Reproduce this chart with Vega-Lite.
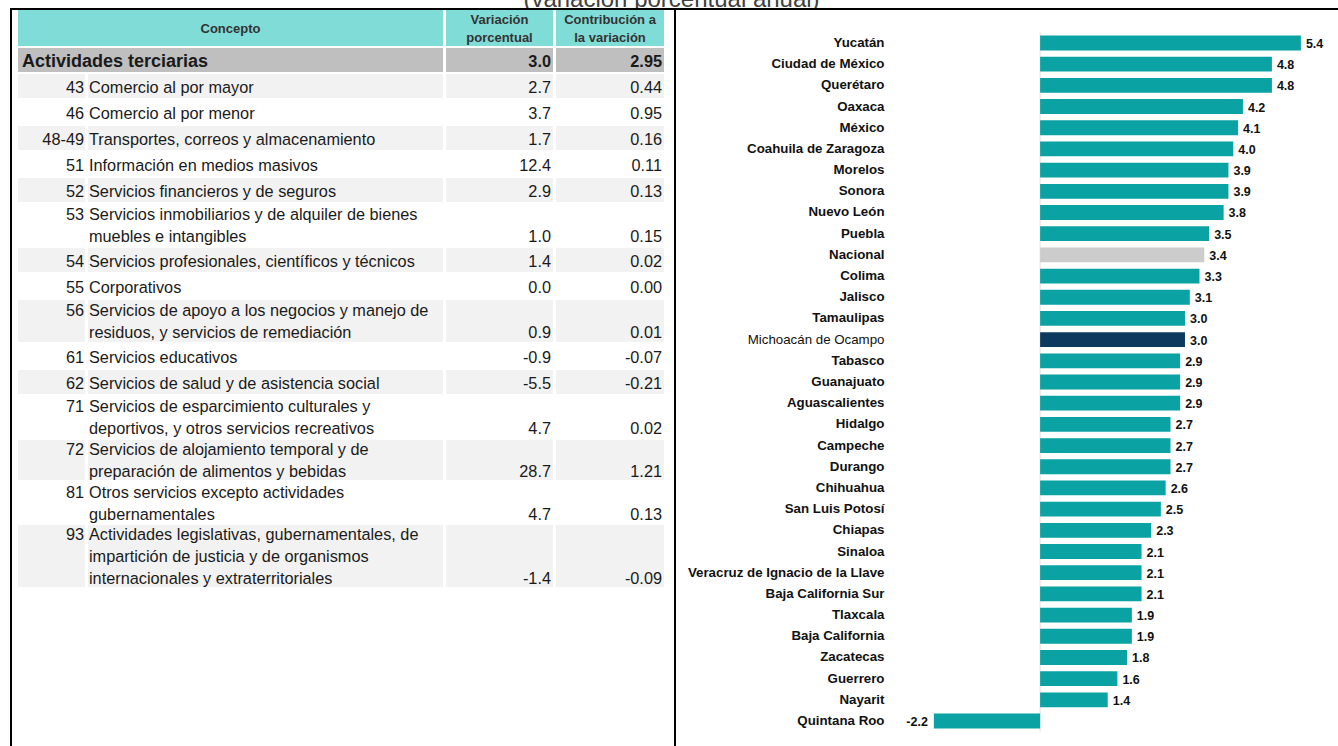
{
  "$schema": "https://vega.github.io/schema/vega-lite/v6.json",
  "padding": {"left": 10, "top": 0, "right": 0, "bottom": 0},
  "background": "white",
  "spacing": 0,
  "config": {
    "view": {"stroke": null},
    "font": "Liberation Sans",
    "locale": {"number": {"decimal": ".", "thousands": ",", "grouping": [3], "currency": ["$", ""], "minus": "-"}},
    "text": {"font": "Liberation Sans", "fontSize": 16.3, "color": "#1a1a1a", "baseline": "middle", "lineHeight": 22, "dy": 2}
  },
  "datasets": {
    "titulo": [{"texto": "(variación porcentual anual)"}],
    "encabezado": [
      {"columna": "concepto", "texto": ["Concepto"]},
      {"columna": "variacion", "texto": ["Variación", "porcentual"]},
      {"columna": "contribucion", "texto": ["Contribución a", "la variación"]}
    ],
    "total": [{"concepto": "Actividades terciarias", "var": 3.0, "contrib": 2.95}],
    "cuerpo": [
      {"fila": 1, "clave": "43", "concepto": ["Comercio al por mayor"], "var": 2.7, "contrib": 0.44},
      {"fila": 2, "clave": "46", "concepto": ["Comercio al por menor"], "var": 3.7, "contrib": 0.95},
      {"fila": 3, "clave": "48-49", "concepto": ["Transportes, correos y almacenamiento"], "var": 1.7, "contrib": 0.16},
      {"fila": 4, "clave": "51", "concepto": ["Información en medios masivos"], "var": 12.4, "contrib": 0.11},
      {"fila": 5, "clave": "52", "concepto": ["Servicios financieros y de seguros"], "var": 2.9, "contrib": 0.13},
      {"fila": 6, "clave": "53", "concepto": ["Servicios inmobiliarios y de alquiler de bienes", "muebles e intangibles"], "var": 1.0, "contrib": 0.15},
      {"fila": 7, "clave": "54", "concepto": ["Servicios profesionales, científicos y técnicos"], "var": 1.4, "contrib": 0.02},
      {"fila": 8, "clave": "55", "concepto": ["Corporativos"], "var": 0.0, "contrib": 0.0},
      {"fila": 9, "clave": "56", "concepto": ["Servicios de apoyo a los negocios y manejo de", "residuos, y servicios de remediación"], "var": 0.9, "contrib": 0.01},
      {"fila": 10, "clave": "61", "concepto": ["Servicios educativos"], "var": -0.9, "contrib": -0.07},
      {"fila": 11, "clave": "62", "concepto": ["Servicios de salud y de asistencia social"], "var": -5.5, "contrib": -0.21},
      {"fila": 12, "clave": "71", "concepto": ["Servicios de esparcimiento culturales y", "deportivos, y otros servicios recreativos"], "var": 4.7, "contrib": 0.02},
      {"fila": 13, "clave": "72", "concepto": ["Servicios de alojamiento temporal y de", "preparación de alimentos y bebidas"], "var": 28.7, "contrib": 1.21},
      {"fila": 14, "clave": "81", "concepto": ["Otros servicios excepto actividades", "gubernamentales"], "var": 4.7, "contrib": 0.13},
      {"fila": 15, "clave": "93", "concepto": ["Actividades legislativas, gubernamentales, de", "impartición de justicia y de organismos", "internacionales y extraterritoriales"], "var": -1.4, "contrib": -0.09}
    ],
    "estados": [
      {"estado": "Yucatán", "valor": 5.4},
      {"estado": "Ciudad de México", "valor": 4.8},
      {"estado": "Querétaro", "valor": 4.8},
      {"estado": "Oaxaca", "valor": 4.2},
      {"estado": "México", "valor": 4.1},
      {"estado": "Coahuila de Zaragoza", "valor": 4.0},
      {"estado": "Morelos", "valor": 3.9},
      {"estado": "Sonora", "valor": 3.9},
      {"estado": "Nuevo León", "valor": 3.8},
      {"estado": "Puebla", "valor": 3.5},
      {"estado": "Nacional", "valor": 3.4},
      {"estado": "Colima", "valor": 3.3},
      {"estado": "Jalisco", "valor": 3.1},
      {"estado": "Tamaulipas", "valor": 3.0},
      {"estado": "Michoacán de Ocampo", "valor": 3.0},
      {"estado": "Tabasco", "valor": 2.9},
      {"estado": "Guanajuato", "valor": 2.9},
      {"estado": "Aguascalientes", "valor": 2.9},
      {"estado": "Hidalgo", "valor": 2.7},
      {"estado": "Campeche", "valor": 2.7},
      {"estado": "Durango", "valor": 2.7},
      {"estado": "Chihuahua", "valor": 2.6},
      {"estado": "San Luis Potosí", "valor": 2.5},
      {"estado": "Chiapas", "valor": 2.3},
      {"estado": "Sinaloa", "valor": 2.1},
      {"estado": "Veracruz de Ignacio de la Llave", "valor": 2.1},
      {"estado": "Baja California Sur", "valor": 2.1},
      {"estado": "Tlaxcala", "valor": 1.9},
      {"estado": "Baja California", "valor": 1.9},
      {"estado": "Zacatecas", "valor": 1.8},
      {"estado": "Guerrero", "valor": 1.6},
      {"estado": "Nayarit", "valor": 1.4},
      {"estado": "Quintana Roo", "valor": -2.2}
    ]
  },
  "vconcat": [
    {
      "data": {"name": "titulo"},
      "width": 1323, "height": 8,
      "mark": {"type": "text", "clip": true, "fontSize": 24, "baseline": "alphabetic", "dy": 3, "color": "#404040"},
      "encoding": {"text": {"field": "texto"}}
    },
    {"data": {"values": []}, "width": 1330, "height": 2, "view": {"fill": "#000000"}, "mark": "rule", "encoding": {}},
    {
      "spacing": 10,
      "hconcat": [
        {
          "spacing": 6,
          "hconcat": [
            {"data": {"values": []}, "width": 2, "height": 740, "view": {"fill": "#000000"}, "mark": "rule", "encoding": {}},
            {
              "spacing": 2,
              "vconcat": [
                {"spacing": 3, "hconcat": [
                  {"data": {"name": "encabezado"}, "transform": [{"filter": "datum.columna === 'concepto'"}], "width": 425, "height": 36, "view": {"fill": "#80dcd6"}, "mark": {"type": "text", "fontSize": 13, "fontWeight": "bold", "color": "#333333", "lineHeight": 18, "dy": 1}, "encoding": {"text": {"field": "texto"}}},
                  {"data": {"name": "encabezado"}, "transform": [{"filter": "datum.columna === 'variacion'"}], "width": 107, "height": 36, "view": {"fill": "#80dcd6"}, "mark": {"type": "text", "fontSize": 13, "fontWeight": "bold", "color": "#333333", "lineHeight": 18, "dy": -8}, "encoding": {"text": {"field": "texto"}}},
                  {"data": {"name": "encabezado"}, "transform": [{"filter": "datum.columna === 'contribucion'"}], "width": 108, "height": 36, "view": {"fill": "#80dcd6"}, "mark": {"type": "text", "fontSize": 13, "fontWeight": "bold", "color": "#333333", "lineHeight": 18, "dy": -8}, "encoding": {"text": {"field": "texto"}}}
                ]},
                {"spacing": 3, "hconcat": [
                  {"data": {"name": "total"}, "width": 425, "height": 24, "view": {"fill": "#bfbfbf"}, "mark": {"type": "text", "fontSize": 18, "fontWeight": "bold", "align": "left", "dx": 4}, "encoding": {"x": {"datum": 0, "type": "quantitative", "scale": {"domain": [0, 1]}, "axis": null}, "text": {"field": "concepto"}}},
                  {"data": {"name": "total"}, "width": 107, "height": 24, "view": {"fill": "#bfbfbf"}, "mark": {"type": "text", "fontWeight": "bold", "align": "right", "dx": -2}, "encoding": {"x": {"datum": 1, "type": "quantitative", "scale": {"domain": [0, 1]}, "axis": null}, "text": {"field": "var", "format": ".1f"}}},
                  {"data": {"name": "total"}, "width": 108, "height": 24, "view": {"fill": "#bfbfbf"}, "mark": {"type": "text", "fontWeight": "bold", "align": "right", "dx": -2}, "encoding": {"x": {"datum": 1, "type": "quantitative", "scale": {"domain": [0, 1]}, "axis": null}, "text": {"field": "contrib", "format": ".2f"}}}
                ]},
                {"spacing": 3, "hconcat": [
                  {"data": {"name": "cuerpo"}, "transform": [{"filter": "datum.fila === 1"}], "width": 67, "height": 24, "view": {"fill": "#f2f2f2"}, "mark": {"type": "text", "align": "right", "dx": -1}, "encoding": {"x": {"datum": 1, "type": "quantitative", "scale": {"domain": [0, 1]}, "axis": null}, "text": {"field": "clave"}}},
                  {"data": {"name": "cuerpo"}, "transform": [{"filter": "datum.fila === 1"}], "width": 355, "height": 24, "view": {"fill": "#f2f2f2"}, "mark": {"type": "text", "align": "left", "dx": 1}, "encoding": {"x": {"datum": 0, "type": "quantitative", "scale": {"domain": [0, 1]}, "axis": null}, "text": {"field": "concepto"}}},
                  {"data": {"name": "cuerpo"}, "transform": [{"filter": "datum.fila === 1"}], "width": 107, "height": 24, "view": {"fill": "#f2f2f2"}, "mark": {"type": "text", "align": "right", "dx": -2}, "encoding": {"x": {"datum": 1, "type": "quantitative", "scale": {"domain": [0, 1]}, "axis": null}, "text": {"field": "var", "format": ".1f"}}},
                  {"data": {"name": "cuerpo"}, "transform": [{"filter": "datum.fila === 1"}], "width": 108, "height": 24, "view": {"fill": "#f2f2f2"}, "mark": {"type": "text", "align": "right", "dx": -2}, "encoding": {"x": {"datum": 1, "type": "quantitative", "scale": {"domain": [0, 1]}, "axis": null}, "text": {"field": "contrib", "format": ".2f"}}}
                ]},
                {"spacing": 3, "hconcat": [
                  {"data": {"name": "cuerpo"}, "transform": [{"filter": "datum.fila === 2"}], "width": 67, "height": 24, "view": {"fill": "#ffffff"}, "mark": {"type": "text", "align": "right", "dx": -1}, "encoding": {"x": {"datum": 1, "type": "quantitative", "scale": {"domain": [0, 1]}, "axis": null}, "text": {"field": "clave"}}},
                  {"data": {"name": "cuerpo"}, "transform": [{"filter": "datum.fila === 2"}], "width": 355, "height": 24, "view": {"fill": "#ffffff"}, "mark": {"type": "text", "align": "left", "dx": 1}, "encoding": {"x": {"datum": 0, "type": "quantitative", "scale": {"domain": [0, 1]}, "axis": null}, "text": {"field": "concepto"}}},
                  {"data": {"name": "cuerpo"}, "transform": [{"filter": "datum.fila === 2"}], "width": 107, "height": 24, "view": {"fill": "#ffffff"}, "mark": {"type": "text", "align": "right", "dx": -2}, "encoding": {"x": {"datum": 1, "type": "quantitative", "scale": {"domain": [0, 1]}, "axis": null}, "text": {"field": "var", "format": ".1f"}}},
                  {"data": {"name": "cuerpo"}, "transform": [{"filter": "datum.fila === 2"}], "width": 108, "height": 24, "view": {"fill": "#ffffff"}, "mark": {"type": "text", "align": "right", "dx": -2}, "encoding": {"x": {"datum": 1, "type": "quantitative", "scale": {"domain": [0, 1]}, "axis": null}, "text": {"field": "contrib", "format": ".2f"}}}
                ]},
                {"spacing": 3, "hconcat": [
                  {"data": {"name": "cuerpo"}, "transform": [{"filter": "datum.fila === 3"}], "width": 67, "height": 24, "view": {"fill": "#f2f2f2"}, "mark": {"type": "text", "align": "right", "dx": -1}, "encoding": {"x": {"datum": 1, "type": "quantitative", "scale": {"domain": [0, 1]}, "axis": null}, "text": {"field": "clave"}}},
                  {"data": {"name": "cuerpo"}, "transform": [{"filter": "datum.fila === 3"}], "width": 355, "height": 24, "view": {"fill": "#f2f2f2"}, "mark": {"type": "text", "align": "left", "dx": 1}, "encoding": {"x": {"datum": 0, "type": "quantitative", "scale": {"domain": [0, 1]}, "axis": null}, "text": {"field": "concepto"}}},
                  {"data": {"name": "cuerpo"}, "transform": [{"filter": "datum.fila === 3"}], "width": 107, "height": 24, "view": {"fill": "#f2f2f2"}, "mark": {"type": "text", "align": "right", "dx": -2}, "encoding": {"x": {"datum": 1, "type": "quantitative", "scale": {"domain": [0, 1]}, "axis": null}, "text": {"field": "var", "format": ".1f"}}},
                  {"data": {"name": "cuerpo"}, "transform": [{"filter": "datum.fila === 3"}], "width": 108, "height": 24, "view": {"fill": "#f2f2f2"}, "mark": {"type": "text", "align": "right", "dx": -2}, "encoding": {"x": {"datum": 1, "type": "quantitative", "scale": {"domain": [0, 1]}, "axis": null}, "text": {"field": "contrib", "format": ".2f"}}}
                ]},
                {"spacing": 3, "hconcat": [
                  {"data": {"name": "cuerpo"}, "transform": [{"filter": "datum.fila === 4"}], "width": 67, "height": 24, "view": {"fill": "#ffffff"}, "mark": {"type": "text", "align": "right", "dx": -1}, "encoding": {"x": {"datum": 1, "type": "quantitative", "scale": {"domain": [0, 1]}, "axis": null}, "text": {"field": "clave"}}},
                  {"data": {"name": "cuerpo"}, "transform": [{"filter": "datum.fila === 4"}], "width": 355, "height": 24, "view": {"fill": "#ffffff"}, "mark": {"type": "text", "align": "left", "dx": 1}, "encoding": {"x": {"datum": 0, "type": "quantitative", "scale": {"domain": [0, 1]}, "axis": null}, "text": {"field": "concepto"}}},
                  {"data": {"name": "cuerpo"}, "transform": [{"filter": "datum.fila === 4"}], "width": 107, "height": 24, "view": {"fill": "#ffffff"}, "mark": {"type": "text", "align": "right", "dx": -2}, "encoding": {"x": {"datum": 1, "type": "quantitative", "scale": {"domain": [0, 1]}, "axis": null}, "text": {"field": "var", "format": ".1f"}}},
                  {"data": {"name": "cuerpo"}, "transform": [{"filter": "datum.fila === 4"}], "width": 108, "height": 24, "view": {"fill": "#ffffff"}, "mark": {"type": "text", "align": "right", "dx": -2}, "encoding": {"x": {"datum": 1, "type": "quantitative", "scale": {"domain": [0, 1]}, "axis": null}, "text": {"field": "contrib", "format": ".2f"}}}
                ]},
                {"spacing": 3, "hconcat": [
                  {"data": {"name": "cuerpo"}, "transform": [{"filter": "datum.fila === 5"}], "width": 67, "height": 24, "view": {"fill": "#f2f2f2"}, "mark": {"type": "text", "align": "right", "dx": -1}, "encoding": {"x": {"datum": 1, "type": "quantitative", "scale": {"domain": [0, 1]}, "axis": null}, "text": {"field": "clave"}}},
                  {"data": {"name": "cuerpo"}, "transform": [{"filter": "datum.fila === 5"}], "width": 355, "height": 24, "view": {"fill": "#f2f2f2"}, "mark": {"type": "text", "align": "left", "dx": 1}, "encoding": {"x": {"datum": 0, "type": "quantitative", "scale": {"domain": [0, 1]}, "axis": null}, "text": {"field": "concepto"}}},
                  {"data": {"name": "cuerpo"}, "transform": [{"filter": "datum.fila === 5"}], "width": 107, "height": 24, "view": {"fill": "#f2f2f2"}, "mark": {"type": "text", "align": "right", "dx": -2}, "encoding": {"x": {"datum": 1, "type": "quantitative", "scale": {"domain": [0, 1]}, "axis": null}, "text": {"field": "var", "format": ".1f"}}},
                  {"data": {"name": "cuerpo"}, "transform": [{"filter": "datum.fila === 5"}], "width": 108, "height": 24, "view": {"fill": "#f2f2f2"}, "mark": {"type": "text", "align": "right", "dx": -2}, "encoding": {"x": {"datum": 1, "type": "quantitative", "scale": {"domain": [0, 1]}, "axis": null}, "text": {"field": "contrib", "format": ".2f"}}}
                ]},
                {"spacing": 3, "hconcat": [
                  {"data": {"name": "cuerpo"}, "transform": [{"filter": "datum.fila === 6"}], "width": 67, "height": 42, "view": {"fill": "#ffffff"}, "mark": {"type": "text", "align": "right", "dx": -1, "dy": -10}, "encoding": {"x": {"datum": 1, "type": "quantitative", "scale": {"domain": [0, 1]}, "axis": null}, "text": {"field": "clave"}}},
                  {"data": {"name": "cuerpo"}, "transform": [{"filter": "datum.fila === 6"}], "width": 355, "height": 42, "view": {"fill": "#ffffff"}, "mark": {"type": "text", "align": "left", "dx": 1, "dy": -10}, "encoding": {"x": {"datum": 0, "type": "quantitative", "scale": {"domain": [0, 1]}, "axis": null}, "text": {"field": "concepto"}}},
                  {"data": {"name": "cuerpo"}, "transform": [{"filter": "datum.fila === 6"}], "width": 107, "height": 42, "view": {"fill": "#ffffff"}, "mark": {"type": "text", "align": "right", "dx": -2, "dy": 12}, "encoding": {"x": {"datum": 1, "type": "quantitative", "scale": {"domain": [0, 1]}, "axis": null}, "text": {"field": "var", "format": ".1f"}}},
                  {"data": {"name": "cuerpo"}, "transform": [{"filter": "datum.fila === 6"}], "width": 108, "height": 42, "view": {"fill": "#ffffff"}, "mark": {"type": "text", "align": "right", "dx": -2, "dy": 12}, "encoding": {"x": {"datum": 1, "type": "quantitative", "scale": {"domain": [0, 1]}, "axis": null}, "text": {"field": "contrib", "format": ".2f"}}}
                ]},
                {"spacing": 3, "hconcat": [
                  {"data": {"name": "cuerpo"}, "transform": [{"filter": "datum.fila === 7"}], "width": 67, "height": 24, "view": {"fill": "#f2f2f2"}, "mark": {"type": "text", "align": "right", "dx": -1}, "encoding": {"x": {"datum": 1, "type": "quantitative", "scale": {"domain": [0, 1]}, "axis": null}, "text": {"field": "clave"}}},
                  {"data": {"name": "cuerpo"}, "transform": [{"filter": "datum.fila === 7"}], "width": 355, "height": 24, "view": {"fill": "#f2f2f2"}, "mark": {"type": "text", "align": "left", "dx": 1}, "encoding": {"x": {"datum": 0, "type": "quantitative", "scale": {"domain": [0, 1]}, "axis": null}, "text": {"field": "concepto"}}},
                  {"data": {"name": "cuerpo"}, "transform": [{"filter": "datum.fila === 7"}], "width": 107, "height": 24, "view": {"fill": "#f2f2f2"}, "mark": {"type": "text", "align": "right", "dx": -2}, "encoding": {"x": {"datum": 1, "type": "quantitative", "scale": {"domain": [0, 1]}, "axis": null}, "text": {"field": "var", "format": ".1f"}}},
                  {"data": {"name": "cuerpo"}, "transform": [{"filter": "datum.fila === 7"}], "width": 108, "height": 24, "view": {"fill": "#f2f2f2"}, "mark": {"type": "text", "align": "right", "dx": -2}, "encoding": {"x": {"datum": 1, "type": "quantitative", "scale": {"domain": [0, 1]}, "axis": null}, "text": {"field": "contrib", "format": ".2f"}}}
                ]},
                {"spacing": 3, "hconcat": [
                  {"data": {"name": "cuerpo"}, "transform": [{"filter": "datum.fila === 8"}], "width": 67, "height": 24, "view": {"fill": "#ffffff"}, "mark": {"type": "text", "align": "right", "dx": -1}, "encoding": {"x": {"datum": 1, "type": "quantitative", "scale": {"domain": [0, 1]}, "axis": null}, "text": {"field": "clave"}}},
                  {"data": {"name": "cuerpo"}, "transform": [{"filter": "datum.fila === 8"}], "width": 355, "height": 24, "view": {"fill": "#ffffff"}, "mark": {"type": "text", "align": "left", "dx": 1}, "encoding": {"x": {"datum": 0, "type": "quantitative", "scale": {"domain": [0, 1]}, "axis": null}, "text": {"field": "concepto"}}},
                  {"data": {"name": "cuerpo"}, "transform": [{"filter": "datum.fila === 8"}], "width": 107, "height": 24, "view": {"fill": "#ffffff"}, "mark": {"type": "text", "align": "right", "dx": -2}, "encoding": {"x": {"datum": 1, "type": "quantitative", "scale": {"domain": [0, 1]}, "axis": null}, "text": {"field": "var", "format": ".1f"}}},
                  {"data": {"name": "cuerpo"}, "transform": [{"filter": "datum.fila === 8"}], "width": 108, "height": 24, "view": {"fill": "#ffffff"}, "mark": {"type": "text", "align": "right", "dx": -2}, "encoding": {"x": {"datum": 1, "type": "quantitative", "scale": {"domain": [0, 1]}, "axis": null}, "text": {"field": "contrib", "format": ".2f"}}}
                ]},
                {"spacing": 3, "hconcat": [
                  {"data": {"name": "cuerpo"}, "transform": [{"filter": "datum.fila === 9"}], "width": 67, "height": 42, "view": {"fill": "#f2f2f2"}, "mark": {"type": "text", "align": "right", "dx": -1, "dy": -10}, "encoding": {"x": {"datum": 1, "type": "quantitative", "scale": {"domain": [0, 1]}, "axis": null}, "text": {"field": "clave"}}},
                  {"data": {"name": "cuerpo"}, "transform": [{"filter": "datum.fila === 9"}], "width": 355, "height": 42, "view": {"fill": "#f2f2f2"}, "mark": {"type": "text", "align": "left", "dx": 1, "dy": -10}, "encoding": {"x": {"datum": 0, "type": "quantitative", "scale": {"domain": [0, 1]}, "axis": null}, "text": {"field": "concepto"}}},
                  {"data": {"name": "cuerpo"}, "transform": [{"filter": "datum.fila === 9"}], "width": 107, "height": 42, "view": {"fill": "#f2f2f2"}, "mark": {"type": "text", "align": "right", "dx": -2, "dy": 12}, "encoding": {"x": {"datum": 1, "type": "quantitative", "scale": {"domain": [0, 1]}, "axis": null}, "text": {"field": "var", "format": ".1f"}}},
                  {"data": {"name": "cuerpo"}, "transform": [{"filter": "datum.fila === 9"}], "width": 108, "height": 42, "view": {"fill": "#f2f2f2"}, "mark": {"type": "text", "align": "right", "dx": -2, "dy": 12}, "encoding": {"x": {"datum": 1, "type": "quantitative", "scale": {"domain": [0, 1]}, "axis": null}, "text": {"field": "contrib", "format": ".2f"}}}
                ]},
                {"spacing": 3, "hconcat": [
                  {"data": {"name": "cuerpo"}, "transform": [{"filter": "datum.fila === 10"}], "width": 67, "height": 24, "view": {"fill": "#ffffff"}, "mark": {"type": "text", "align": "right", "dx": -1}, "encoding": {"x": {"datum": 1, "type": "quantitative", "scale": {"domain": [0, 1]}, "axis": null}, "text": {"field": "clave"}}},
                  {"data": {"name": "cuerpo"}, "transform": [{"filter": "datum.fila === 10"}], "width": 355, "height": 24, "view": {"fill": "#ffffff"}, "mark": {"type": "text", "align": "left", "dx": 1}, "encoding": {"x": {"datum": 0, "type": "quantitative", "scale": {"domain": [0, 1]}, "axis": null}, "text": {"field": "concepto"}}},
                  {"data": {"name": "cuerpo"}, "transform": [{"filter": "datum.fila === 10"}], "width": 107, "height": 24, "view": {"fill": "#ffffff"}, "mark": {"type": "text", "align": "right", "dx": -2}, "encoding": {"x": {"datum": 1, "type": "quantitative", "scale": {"domain": [0, 1]}, "axis": null}, "text": {"field": "var", "format": ".1f"}}},
                  {"data": {"name": "cuerpo"}, "transform": [{"filter": "datum.fila === 10"}], "width": 108, "height": 24, "view": {"fill": "#ffffff"}, "mark": {"type": "text", "align": "right", "dx": -2}, "encoding": {"x": {"datum": 1, "type": "quantitative", "scale": {"domain": [0, 1]}, "axis": null}, "text": {"field": "contrib", "format": ".2f"}}}
                ]},
                {"spacing": 3, "hconcat": [
                  {"data": {"name": "cuerpo"}, "transform": [{"filter": "datum.fila === 11"}], "width": 67, "height": 24, "view": {"fill": "#f2f2f2"}, "mark": {"type": "text", "align": "right", "dx": -1}, "encoding": {"x": {"datum": 1, "type": "quantitative", "scale": {"domain": [0, 1]}, "axis": null}, "text": {"field": "clave"}}},
                  {"data": {"name": "cuerpo"}, "transform": [{"filter": "datum.fila === 11"}], "width": 355, "height": 24, "view": {"fill": "#f2f2f2"}, "mark": {"type": "text", "align": "left", "dx": 1}, "encoding": {"x": {"datum": 0, "type": "quantitative", "scale": {"domain": [0, 1]}, "axis": null}, "text": {"field": "concepto"}}},
                  {"data": {"name": "cuerpo"}, "transform": [{"filter": "datum.fila === 11"}], "width": 107, "height": 24, "view": {"fill": "#f2f2f2"}, "mark": {"type": "text", "align": "right", "dx": -2}, "encoding": {"x": {"datum": 1, "type": "quantitative", "scale": {"domain": [0, 1]}, "axis": null}, "text": {"field": "var", "format": ".1f"}}},
                  {"data": {"name": "cuerpo"}, "transform": [{"filter": "datum.fila === 11"}], "width": 108, "height": 24, "view": {"fill": "#f2f2f2"}, "mark": {"type": "text", "align": "right", "dx": -2}, "encoding": {"x": {"datum": 1, "type": "quantitative", "scale": {"domain": [0, 1]}, "axis": null}, "text": {"field": "contrib", "format": ".2f"}}}
                ]},
                {"spacing": 3, "hconcat": [
                  {"data": {"name": "cuerpo"}, "transform": [{"filter": "datum.fila === 12"}], "width": 67, "height": 42, "view": {"fill": "#ffffff"}, "mark": {"type": "text", "align": "right", "dx": -1, "dy": -10}, "encoding": {"x": {"datum": 1, "type": "quantitative", "scale": {"domain": [0, 1]}, "axis": null}, "text": {"field": "clave"}}},
                  {"data": {"name": "cuerpo"}, "transform": [{"filter": "datum.fila === 12"}], "width": 355, "height": 42, "view": {"fill": "#ffffff"}, "mark": {"type": "text", "align": "left", "dx": 1, "dy": -10}, "encoding": {"x": {"datum": 0, "type": "quantitative", "scale": {"domain": [0, 1]}, "axis": null}, "text": {"field": "concepto"}}},
                  {"data": {"name": "cuerpo"}, "transform": [{"filter": "datum.fila === 12"}], "width": 107, "height": 42, "view": {"fill": "#ffffff"}, "mark": {"type": "text", "align": "right", "dx": -2, "dy": 12}, "encoding": {"x": {"datum": 1, "type": "quantitative", "scale": {"domain": [0, 1]}, "axis": null}, "text": {"field": "var", "format": ".1f"}}},
                  {"data": {"name": "cuerpo"}, "transform": [{"filter": "datum.fila === 12"}], "width": 108, "height": 42, "view": {"fill": "#ffffff"}, "mark": {"type": "text", "align": "right", "dx": -2, "dy": 12}, "encoding": {"x": {"datum": 1, "type": "quantitative", "scale": {"domain": [0, 1]}, "axis": null}, "text": {"field": "contrib", "format": ".2f"}}}
                ]},
                {"spacing": 3, "hconcat": [
                  {"data": {"name": "cuerpo"}, "transform": [{"filter": "datum.fila === 13"}], "width": 67, "height": 40, "view": {"fill": "#f2f2f2"}, "mark": {"type": "text", "align": "right", "dx": -1, "dy": -10.5}, "encoding": {"x": {"datum": 1, "type": "quantitative", "scale": {"domain": [0, 1]}, "axis": null}, "text": {"field": "clave"}}},
                  {"data": {"name": "cuerpo"}, "transform": [{"filter": "datum.fila === 13"}], "width": 355, "height": 40, "view": {"fill": "#f2f2f2"}, "mark": {"type": "text", "align": "left", "dx": 1, "dy": -10.5}, "encoding": {"x": {"datum": 0, "type": "quantitative", "scale": {"domain": [0, 1]}, "axis": null}, "text": {"field": "concepto"}}},
                  {"data": {"name": "cuerpo"}, "transform": [{"filter": "datum.fila === 13"}], "width": 107, "height": 40, "view": {"fill": "#f2f2f2"}, "mark": {"type": "text", "align": "right", "dx": -2, "dy": 11.5}, "encoding": {"x": {"datum": 1, "type": "quantitative", "scale": {"domain": [0, 1]}, "axis": null}, "text": {"field": "var", "format": ".1f"}}},
                  {"data": {"name": "cuerpo"}, "transform": [{"filter": "datum.fila === 13"}], "width": 108, "height": 40, "view": {"fill": "#f2f2f2"}, "mark": {"type": "text", "align": "right", "dx": -2, "dy": 11.5}, "encoding": {"x": {"datum": 1, "type": "quantitative", "scale": {"domain": [0, 1]}, "axis": null}, "text": {"field": "contrib", "format": ".2f"}}}
                ]},
                {"spacing": 3, "hconcat": [
                  {"data": {"name": "cuerpo"}, "transform": [{"filter": "datum.fila === 14"}], "width": 67, "height": 41, "view": {"fill": "#ffffff"}, "mark": {"type": "text", "align": "right", "dx": -1, "dy": -10}, "encoding": {"x": {"datum": 1, "type": "quantitative", "scale": {"domain": [0, 1]}, "axis": null}, "text": {"field": "clave"}}},
                  {"data": {"name": "cuerpo"}, "transform": [{"filter": "datum.fila === 14"}], "width": 355, "height": 41, "view": {"fill": "#ffffff"}, "mark": {"type": "text", "align": "left", "dx": 1, "dy": -10}, "encoding": {"x": {"datum": 0, "type": "quantitative", "scale": {"domain": [0, 1]}, "axis": null}, "text": {"field": "concepto"}}},
                  {"data": {"name": "cuerpo"}, "transform": [{"filter": "datum.fila === 14"}], "width": 107, "height": 41, "view": {"fill": "#ffffff"}, "mark": {"type": "text", "align": "right", "dx": -2, "dy": 12}, "encoding": {"x": {"datum": 1, "type": "quantitative", "scale": {"domain": [0, 1]}, "axis": null}, "text": {"field": "var", "format": ".1f"}}},
                  {"data": {"name": "cuerpo"}, "transform": [{"filter": "datum.fila === 14"}], "width": 108, "height": 41, "view": {"fill": "#ffffff"}, "mark": {"type": "text", "align": "right", "dx": -2, "dy": 12}, "encoding": {"x": {"datum": 1, "type": "quantitative", "scale": {"domain": [0, 1]}, "axis": null}, "text": {"field": "contrib", "format": ".2f"}}}
                ]},
                {"spacing": 3, "hconcat": [
                  {"data": {"name": "cuerpo"}, "transform": [{"filter": "datum.fila === 15"}], "width": 67, "height": 62, "view": {"fill": "#f2f2f2"}, "mark": {"type": "text", "align": "right", "dx": -1, "dy": -21.5}, "encoding": {"x": {"datum": 1, "type": "quantitative", "scale": {"domain": [0, 1]}, "axis": null}, "text": {"field": "clave"}}},
                  {"data": {"name": "cuerpo"}, "transform": [{"filter": "datum.fila === 15"}], "width": 355, "height": 62, "view": {"fill": "#f2f2f2"}, "mark": {"type": "text", "align": "left", "dx": 1, "dy": -21.5}, "encoding": {"x": {"datum": 0, "type": "quantitative", "scale": {"domain": [0, 1]}, "axis": null}, "text": {"field": "concepto"}}},
                  {"data": {"name": "cuerpo"}, "transform": [{"filter": "datum.fila === 15"}], "width": 107, "height": 62, "view": {"fill": "#f2f2f2"}, "mark": {"type": "text", "align": "right", "dx": -2, "dy": 22.5}, "encoding": {"x": {"datum": 1, "type": "quantitative", "scale": {"domain": [0, 1]}, "axis": null}, "text": {"field": "var", "format": ".1f"}}},
                  {"data": {"name": "cuerpo"}, "transform": [{"filter": "datum.fila === 15"}], "width": 108, "height": 62, "view": {"fill": "#f2f2f2"}, "mark": {"type": "text", "align": "right", "dx": -2, "dy": 22.5}, "encoding": {"x": {"datum": 1, "type": "quantitative", "scale": {"domain": [0, 1]}, "axis": null}, "text": {"field": "contrib", "format": ".2f"}}}
                ]}
              ]
            }
          ]
        },
        {
          "spacing": 0,
          "hconcat": [
            {"data": {"values": []}, "width": 2, "height": 740, "view": {"fill": "#000000"}, "mark": "rule", "encoding": {}},
            {
              "spacing": 0,
              "vconcat": [
                {"data": {"values": []}, "width": 664, "height": 21, "mark": "rule", "encoding": {}},
                {
                  "data": {"name": "estados"},
                  "width": 664,
                  "height": 702,
                  "encoding": {
                    "y": {
                      "field": "estado", "type": "nominal", "sort": null,
                      "scale": {"paddingInner": 0.3, "paddingOuter": 0.215},
                      "axis": {
                        "orient": "left", "offset": -208, "domain": false, "ticks": false, "labelPadding": 0,
                        "labelFont": "Liberation Sans", "labelFontSize": 13.3,
                        "labelFontWeight": {"condition": {"test": "datum.value === 'Michoacán de Ocampo'", "value": "normal"}, "value": "bold"},
                        "labelColor": "#111111", "labelLimit": 0, "title": null
                      }
                    }
                  },
                  "layer": [
                    {
                      "mark": {"type": "tick", "color": "#d4d4d4", "thickness": 1, "size": 21.3},
                      "encoding": {"x": {"datum": 0, "type": "quantitative", "axis": null}}
                    },
                    {
                      "mark": {"type": "bar"},
                      "encoding": {
                        "x": {"field": "valor", "type": "quantitative", "scale": {"domain": [-7.54, 6.21], "nice": false}, "axis": null},
                        "color": {
                          "condition": [
                            {"test": "datum.estado === 'Nacional'", "value": "#cccccc"},
                            {"test": "datum.estado === 'Michoacán de Ocampo'", "value": "#0b3a5e"}
                          ],
                          "value": "#0aa2a3"
                        }
                      }
                    },
                    {
                      "transform": [{"filter": "datum.valor >= 0"}],
                      "mark": {"type": "text", "align": "left", "dx": 5, "dy": 1, "fontSize": 12.5, "fontWeight": "bold", "color": "#111111"},
                      "encoding": {
                        "x": {"field": "valor", "type": "quantitative", "axis": null},
                        "text": {"field": "valor", "format": ".1f"}
                      }
                    },
                    {
                      "transform": [{"filter": "datum.valor < 0"}],
                      "mark": {"type": "text", "align": "right", "dx": -6, "dy": 1, "fontSize": 12.5, "fontWeight": "bold", "color": "#111111"},
                      "encoding": {
                        "x": {"field": "valor", "type": "quantitative", "axis": null},
                        "text": {"field": "valor", "format": ".1f"}
                      }
                    }
                  ]
                }
              ]
            }
          ]
        }
      ]
    }
  ]
}
